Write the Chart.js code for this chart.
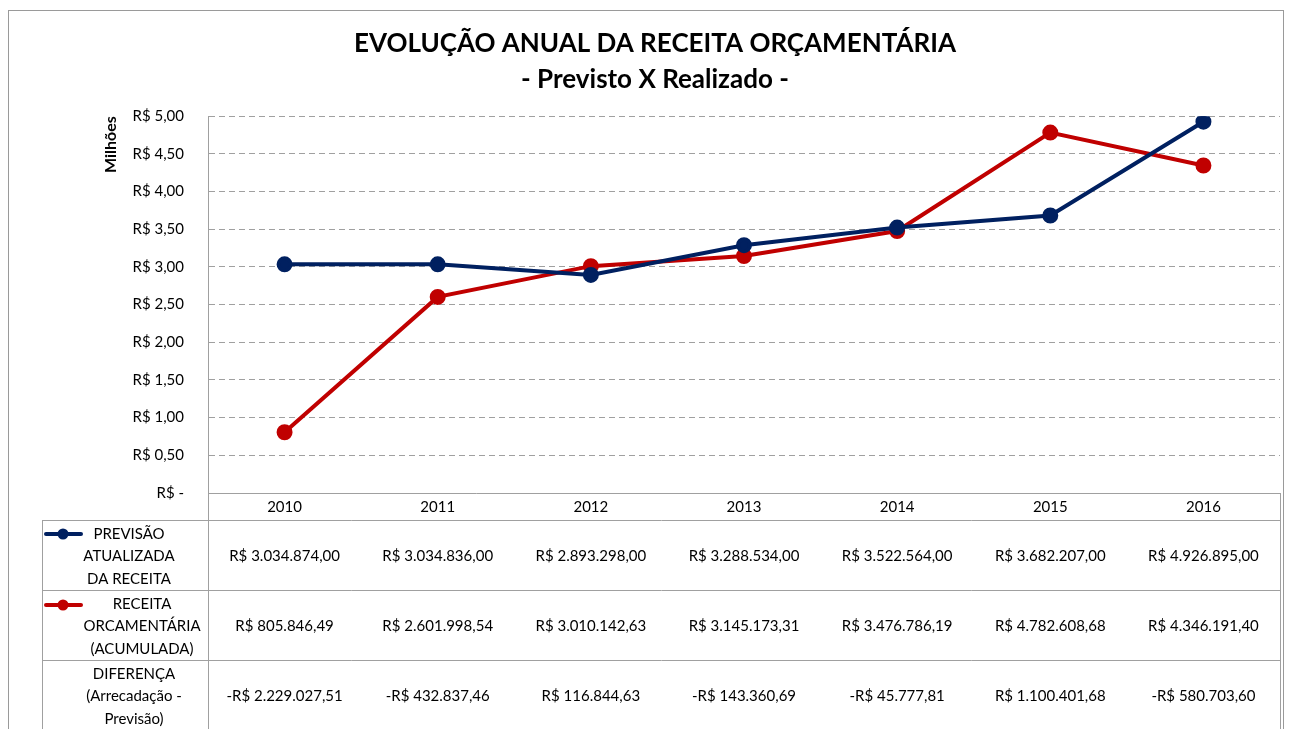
<!DOCTYPE html>
<html>
<head>
<meta charset="utf-8">
<script src="https://cdn.jsdelivr.net/npm/chart.js@4"></script>
<style>
  body { margin: 0; background: #fff; }
  #wrap { width: 1291px; height: 729px; position: relative; }
</style>
</head>
<body>
<div id="wrap"><canvas id="receitaChart"></canvas></div>
<script>
const anos = ['2010', '2011', '2012', '2013', '2014', '2015', '2016'];
const previsao = [3034874.00, 3034836.00, 2893298.00, 3288534.00, 3522564.00, 3682207.00, 4926895.00];
const realizado = [805846.49, 2601998.54, 3010142.63, 3145173.31, 3476786.19, 4782608.68, 4346191.40];
const diferenca = [-2229027.51, -432837.46, 116844.63, -143360.69, -45777.81, 1100401.68, -580703.60];
const rotulos = [
    ['PREVISÃO', 'ATUALIZADA', 'DA RECEITA'],
    ['RECEITA', 'ORCAMENTÁRIA', '(ACUMULADA)'],
    ['DIFERENÇA', '(Arrecadação -', 'Previsão)']
];

const AZUL = '#002060';
const VERMELHO = '#C00000';
const CINZA = '#a0a0a0';
const FONTE = 'Lato, "Noto Sans", sans-serif';

// format like Excel: R$ 1.234.567,89
function brl(v) {
    const neg = v < 0;
    let [i, d] = Math.abs(v).toFixed(2).split('.');
    i = i.replace(/\B(?=(\d{3})+(?!\d))/g, '.');
    return (neg ? '-' : '') + 'R$ ' + i + ',' + d;
}

// table under the plot (data table of the Excel chart)
const tabelaPlugin = {
    id: 'tabela',
    afterDraw(chart) {
        const ctx = chart.ctx;
        const area = chart.chartArea;
        const xs = chart.scales.x;
        const left = 42, axisX = area.left, right = area.right;
        const rowTop = [520, 590, 660];
        ctx.save();

        // outer chart border
        ctx.strokeStyle = '#9a9a9a';
        ctx.lineWidth = 1;
        ctx.strokeRect(8.5, 10.5, 1275, 730);

        // table lines
        ctx.strokeStyle = CINZA;
        ctx.beginPath();
        ctx.moveTo(axisX + 0.5, area.bottom); ctx.lineTo(axisX + 0.5, 729);
        ctx.moveTo(right + 0.5, area.bottom); ctx.lineTo(right + 0.5, 729);
        ctx.moveTo(left + 0.5, rowTop[0]); ctx.lineTo(left + 0.5, 729);
        rowTop.forEach(y => { ctx.moveTo(left, y + 0.5); ctx.lineTo(right + 1, y + 0.5); });
        ctx.stroke();

        // values
        ctx.fillStyle = '#000';
        ctx.textAlign = 'center';
        ctx.textBaseline = 'middle';
        ctx.font = '15px ' + FONTE;
        [previsao, realizado, diferenca].forEach((serie, r) => {
            serie.forEach((v, i) => {
                ctx.fillText(brl(v), xs.getPixelForValue(i), rowTop[r] + 36);
            });
        });

        // row labels
        const labelX = [129, 142, 134];
        rotulos.forEach((linhas, r) => {
            linhas.forEach((t, k) => {
                ctx.fillText(t, labelX[r], rowTop[r] + 14 + k * 22.5);
            });
        });

        // legend keys
        [[AZUL, rowTop[0] + 14], [VERMELHO, rowTop[1] + 15]].forEach(([cor, y]) => {
            ctx.strokeStyle = cor;
            ctx.fillStyle = cor;
            ctx.lineWidth = 4;
            ctx.lineCap = 'round';
            ctx.beginPath();
            ctx.moveTo(46, y); ctx.lineTo(81, y);
            ctx.stroke();
            ctx.beginPath();
            ctx.arc(63, y, 5.5, 0, Math.PI * 2);
            ctx.fill();
        });
        ctx.restore();
    }
};

const ctx = document.getElementById('receitaChart').getContext('2d');
const chart = new Chart(ctx, {
    type: 'line',
    data: {
        labels: anos,
        datasets: [
            {
                label: 'PREVISÃO ATUALIZADA DA RECEITA',
                data: previsao.map(v => v / 1e6),
                borderColor: AZUL,
                backgroundColor: AZUL,
                borderWidth: 4,
                pointRadius: 6,
                pointHoverRadius: 6,
                tension: 0
            },
            {
                label: 'RECEITA ORCAMENTÁRIA (ACUMULADA)',
                data: realizado.map(v => v / 1e6),
                borderColor: VERMELHO,
                backgroundColor: VERMELHO,
                borderWidth: 4,
                pointRadius: 6,
                pointHoverRadius: 6,
                tension: 0
            }
        ]
    },
    options: {
        responsive: true,
        maintainAspectRatio: false,
        animation: false,
        layout: { padding: { left: 30, right: 11, top: 0, bottom: 209 } },
        plugins: {
            legend: { display: false },
            tooltip: { enabled: false },
            title: {
                display: true,
                text: ['EVOLUÇÃO ANUAL DA RECEITA ORÇAMENTÁRIA', '- Previsto X Realizado -'],
                color: '#000',
                font: { family: FONTE, size: 26, weight: 'bold', lineHeight: 1.35 },
                padding: { top: 26.5, bottom: 19.5 }
            }
        },
        scales: {
            x: {
                offset: true,
                afterFit: s => { s.height = 27; },
                grid: { display: false, drawTicks: false },
                border: { color: CINZA },
                ticks: { color: '#000', font: { family: FONTE, size: 15 }, padding: 5 }
            },
            y: {
                min: 0,
                max: 5,
                afterFit: s => { s.width = 178; },
                grid: { color: CINZA, drawTicks: false },
                border: { color: CINZA, dash: [6, 4] },
                title: {
                    display: true,
                    text: 'Milhões',
                    align: 'end',
                    color: '#000',
                    font: { family: FONTE, size: 16, weight: 'bold' },
                    padding: { top: 71 }
                },
                ticks: {
                    stepSize: 0.5,
                    color: '#000',
                    font: { family: FONTE, size: 15 },
                    padding: 24,
                    callback: v => v === 0 ? 'R$ -' : 'R$ ' + v.toFixed(2).replace('.', ',')
                }
            }
        }
    },
    plugins: [tabelaPlugin]
});
</script>
</body>
</html>
